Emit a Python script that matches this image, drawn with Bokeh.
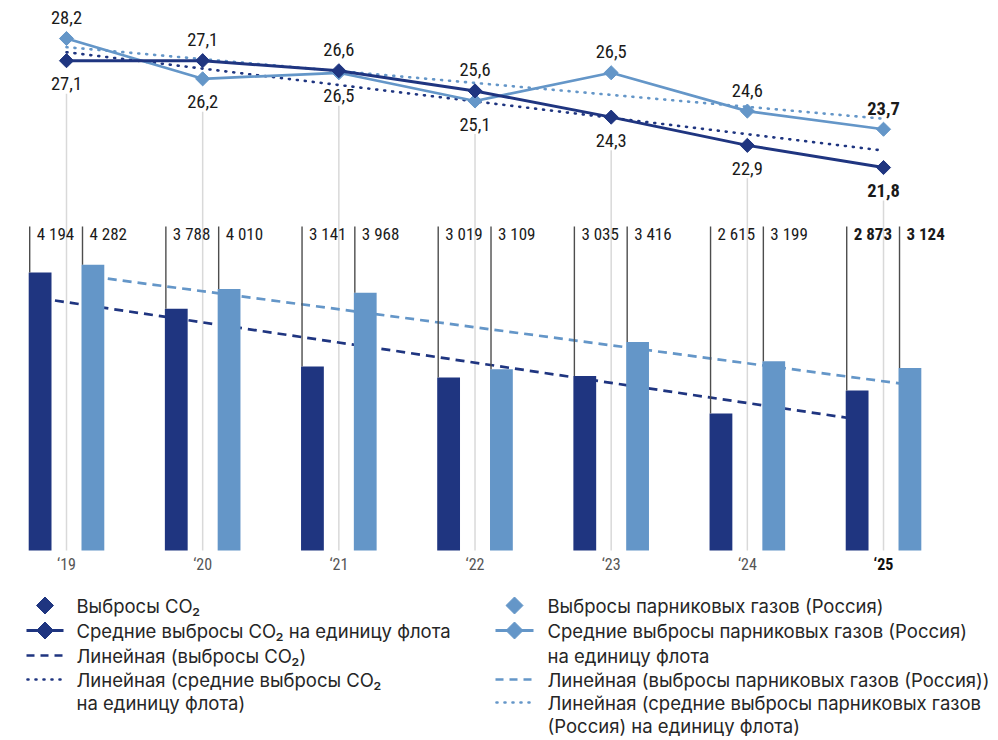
import numpy as np
from bokeh.plotting import figure
from bokeh.models import Range1d, ColumnDataSource
from bokeh.core.properties import value
from bokeh.embed import file_html
from bokeh.resources import INLINE

# ---------------- data ----------------
years = ["\u201819", "\u201820", "\u201821", "\u201822", "\u201823", "\u201824", "\u201825"]
co2_emissions = [4194, 3788, 3141, 3019, 3035, 2615, 2873]
ghg_emissions = [4282, 4010, 3968, 3109, 3416, 3199, 3124]
co2_avg = [27.1, 27.1, 26.6, 25.6, 24.3, 22.9, 21.8]
ghg_avg = [28.2, 26.2, 26.5, 25.1, 26.5, 24.6, 23.7]
# trendline values at first and last year
co2_trend = [3905, 2550]
ghg_trend = [4147, 2936]
co2_avg_trend = [27.52, 22.64]
ghg_avg_trend = [27.77, 24.22]

legend_left = ["Выбросы CO\u2082",
               "Средние выбросы CO\u2082 на единицу флота",
               "Линейная (выбросы CO\u2082)",
               "Линейная (средние выбросы CO\u2082",
               "на единицу флота)"]
legend_right = ["Выбросы парниковых газов (Россия)",
                "Средние выбросы парниковых газов (Россия)",
                "на единицу флота",
                "Линейная (выбросы парниковых газов (Россия))",
                "Линейная (средние выбросы парниковых газов",
                "(Россия) на единицу флота)"]

# ---------------- layout / style ----------------
W, H, OFF = 990, 736, 0
CAT_PX, CAT0_PX = 136.17, 66.0
BAR_PX, BAR_BASE, BASE_Y = 0.08927, 1080.0, 550.0
LINE_PX, LINE_AT_BASE = 20.16, 2.8036

DARK = "#1f3580"
LIGHT = "#6496c8"
GRID = "#d9d9d9"
NARROW = value("Roboto Condensed, Liberation Sans Narrow, Roboto, sans-serif")
SANS = value("Inter")


def xd(px):
    return (px - CAT0_PX) / CAT_PX


def yb(py):
    return BAR_BASE + (BASE_Y - py) / BAR_PX


def yl(py):
    return LINE_AT_BASE + (BASE_Y - py) / LINE_PX


p = figure(width=W, height=H, x_range=Range1d(xd(OFF), xd(OFF + W)),
           y_range=Range1d(yb(OFF + H), yb(OFF)),
           output_backend="svg", toolbar_location=None, min_border=0,
           x_axis_location=None, y_axis_location=None)
p.extra_y_ranges = {"line": Range1d(yl(OFF + H), yl(OFF))}
p.outline_line_color = None
p.grid.visible = False
p.background_fill_color = "white"

n = len(years)
xs = np.arange(n)
BAR_OFF = 26.4 / CAT_PX
BAR_W = 22.8 / CAT_PX

# gray vertical guide lines
lower = np.minimum(co2_avg, ghg_avg)
p.segment(x0=xs, x1=xs, y0=lower - 33 / LINE_PX, y1=yl(BASE_Y), y_range_name="line",
          line_color=GRID, line_width=1.5)

# dashed trendlines for bars
p.line([0 - BAR_OFF, n - 1 - BAR_OFF], co2_trend, line_color=DARK, line_width=2.7, line_dash="9 6")
p.line([0 + BAR_OFF, n - 1 + BAR_OFF], ghg_trend, line_color=LIGHT, line_width=2.7, line_dash="9 6")

# bars
p.vbar(x=xs - BAR_OFF, top=co2_emissions, bottom=BAR_BASE, width=BAR_W,
       fill_color=DARK, line_color=None)
p.vbar(x=xs + BAR_OFF, top=ghg_emissions, bottom=BAR_BASE, width=BAR_W,
       fill_color=LIGHT, line_color=None)

# leader lines and bar labels
styles = ["normal"] * (n - 1) + ["bold"]
for offs, vals in ((-BAR_OFF, co2_emissions), (BAR_OFF, ghg_emissions)):
    xl = xs + offs - BAR_W / 2 + 1.0 / CAT_PX
    p.segment(x0=xl, x1=xl, y0=yb(226), y1=vals, line_color="#4d4d4d", line_width=1.4)
    src = ColumnDataSource(dict(x=xl + 7.0 / CAT_PX, y=[yb(233.5)] * n,
                                t=[f"{v:,}".replace(",", " ") for v in vals], s=styles))
    p.text(x="x", y="y", text="t", source=src, text_align="left", text_baseline="middle",
           text_font=NARROW, text_font_size="17px", text_color="#1a1a1a", text_font_style="s")

# dotted trendlines for averages
p.line([0, n - 1], co2_avg_trend, y_range_name="line", line_color=DARK, line_width=2.6,
       line_dash="1 7", line_cap="round")
p.line([0, n - 1], ghg_avg_trend, y_range_name="line", line_color=LIGHT, line_width=2.6,
       line_dash="1 7", line_cap="round")

# average lines
p.line(xs, ghg_avg, y_range_name="line", line_color=LIGHT, line_width=2.7)
p.scatter(xs, ghg_avg, y_range_name="line", marker="square", angle=np.pi / 4, size=10,
          fill_color=LIGHT, line_color=LIGHT)
p.line(xs, co2_avg, y_range_name="line", line_color=DARK, line_width=3)
p.scatter(xs, co2_avg, y_range_name="line", marker="square", angle=np.pi / 4, size=10,
          fill_color=DARK, line_color=DARK)

# value labels on the average lines: higher value above, lower below
for vals, other in ((co2_avg, ghg_avg), (ghg_avg, co2_avg)):
    offs = [-21 if a > b else 23 for a, b in zip(vals, other)]
    src = ColumnDataSource(dict(x=xs, y=vals, t=[f"{v:.1f}".replace(".", ",") for v in vals],
                                o=offs, s=styles))
    p.text(x="x", y="y", text="t", y_offset="o", source=src, y_range_name="line",
           text_align="center", text_baseline="middle", text_font=NARROW,
           text_font_size="18.5px", text_color="#1a1a1a", text_font_style="s")

# category labels
src = ColumnDataSource(dict(x=xs, y=[yb(563.5)] * n, t=years, s=styles,
                            c=["#555555"] * (n - 1) + ["#111111"]))
p.text(x="x", y="y", text="t", source=src, text_align="center", text_baseline="middle",
       text_font=NARROW, text_font_size="16px", text_color="c", text_font_style="s")

# ---------------- legend (drawn) ----------------
ROWS = [605, 630, 655, 679, 702, 725]


def legend_glyph(kind, x0, x1, row, color):
    y = yb(ROWS[row])
    xc = xd((x0 + x1) / 2)
    if kind in ("line", "marker"):
        if kind == "line":
            p.line([xd(x0), xd(x1)], [y, y], line_color=color, line_width=3)
        p.scatter([xc], [y], marker="square", angle=np.pi / 4, size=12,
                  fill_color=color, line_color=color)
    elif kind == "dash":
        p.line([xd(x0), xd(x1)], [y, y], line_color=color, line_width=2.7, line_dash="8 6")
    elif kind == "dot":
        p.line([xd(x0 + 1), xd(x1)], [y, y], line_color=color, line_width=2.6,
               line_dash="1 7", line_cap="round")


for kind, row in (("marker", 0), ("line", 1), ("dash", 2), ("dot", 3)):
    legend_glyph(kind, 26, 63, row, DARK)
for kind, row in (("marker", 0), ("line", 1), ("dash", 3), ("dot", 4)):
    legend_glyph(kind, 495, 533, row, LIGHT)

p.text(x=[xd(76)] * len(legend_left), y=[yb(r) for r in ROWS[:len(legend_left)]],
       text=legend_left, text_align="left", text_baseline="middle", text_font=SANS,
       text_font_size="18.5px", text_color="#262626")
p.text(x=[xd(547)] * len(legend_right), y=[yb(r) for r in ROWS[:len(legend_right)]],
       text=legend_right, text_align="left", text_baseline="middle", text_font=SANS,
       text_font_size="18.5px", text_color="#262626")

open("out.html", "w").write(file_html(p, INLINE))
